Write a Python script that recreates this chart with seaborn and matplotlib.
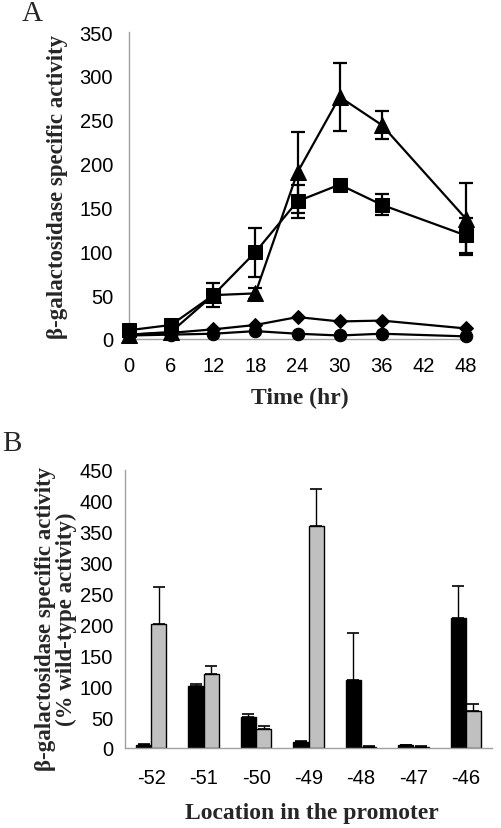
import matplotlib
matplotlib.use("Agg")
import matplotlib.pyplot as plt
import seaborn as sns
import numpy as np
import pandas as pd

# ── Panel A data ────────────────────────────────────────────────────────────
time_hr = [0, 6, 12, 18, 24, 30, 36, 48]
tri_vals = [5, 8, 50, 52, 190, 276, 244, 137]
tri_err = [2, 3, 4, 6, 46, 39, 16, 41]
sq_vals = [10, 16, 50, 99, 157, 176, 153, 118]
sq_err = [2, 3, 14, 28, 19, 3, 12, 20]
dia_vals = [5, 7, 11, 16, 25, 20, 21, 12]
cir_vals = [4, 5, 6, 9, 6, 4, 6, 3]

# ── Panel B data ────────────────────────────────────────────────────────────
locations = ["-52", "-51", "-50", "-49", "-48", "-47", "-46"]
black_vals = [5, 100, 50, 10, 110, 5, 210]
black_err = [1, 3, 5, 2, 76, 0, 53]
gray_vals = [200, 120, 30, 360, 1, 1, 60]
gray_err = [61, 13, 6, 60, 3, 3, 12]

sns.set_theme(style="white")
plt.rcParams["font.family"] = ["Liberation Sans", "DejaVu Sans"]

SERIF = ["Liberation Serif", "DejaVu Serif"]
AXIS_GRAY = "#a0a0a0"
TICK_FS = 14.5

fig = plt.figure(figsize=(5.01, 8.29), dpi=100)
axA = fig.add_axes([129 / 501, 489 / 829, 337 / 501, 307 / 829])
axB = fig.add_axes([125 / 501, 80 / 829, 367 / 501, 278 / 829])


def style_axes(ax):
    for s in ["top", "right"]:
        ax.spines[s].set_visible(False)
    for s in ["left", "bottom"]:
        ax.spines[s].set_color(AXIS_GRAY)
        ax.spines[s].set_linewidth(1.0)
    ax.tick_params(axis="both", colors=AXIS_GRAY, labelcolor="black",
                   labelsize=TICK_FS, length=5, width=1, direction="out")


# ── A: time course ─────────────────────────────────────────────────────────
series = [
    (tri_vals, tri_err, "^"),
    (sq_vals, sq_err, "s"),
    (dia_vals, None, "D"),
    (cir_vals, None, "o"),
]
msize = {"^": 12, "s": 10.5, "D": 7, "o": 9}
for vals, err, mk in series:
    sns.lineplot(x=time_hr, y=vals, ax=axA, color="black", linewidth=1.6,
                 marker=mk, markersize=msize[mk], markeredgecolor="black",
                 markerfacecolor="black", clip_on=False, zorder=3)
    if err is not None:
        axA.errorbar(time_hr, vals, yerr=err, fmt="none", ecolor="black",
                     elinewidth=1.6, capsize=5, capthick=1.6, clip_on=False,
                     zorder=2)

axA.set_xlim(0, 48)
axA.set_ylim(0, 350)
axA.set_xticks(range(0, 49, 6))
axA.set_yticks(range(0, 351, 50))
style_axes(axA)
axA.tick_params(axis="x", pad=7)
axA.tick_params(axis="y", pad=6.5)
axA.set_xlabel("Time (hr)", family=SERIF, fontweight="bold", fontsize=17)
axA.set_ylabel("β-galactosidase specific activity", family=SERIF,
               fontweight="bold", fontsize=16.5)
axA.xaxis.set_label_coords(0.507, -0.156)
axA.yaxis.set_label_coords(-0.181, 0.5)

# ── B: promoter location bars ─────────────────────────────────────────────
dfB = pd.DataFrame({
    "location": locations * 2,
    "activity": black_vals + gray_vals,
    "strain": ["black"] * len(locations) + ["gray"] * len(locations),
})
sns.barplot(data=dfB, x="location", y="activity", hue="strain",
            order=locations, hue_order=["black", "gray"],
            palette={"black": "black", "gray": "#c0c0c0"},
            width=0.58, gap=0, errorbar=None, edgecolor="black",
            linewidth=1.0, legend=False, ax=axB)

for cont, err in zip(axB.containers, [black_err, gray_err]):
    xs = [p.get_x() + p.get_width() / 2 for p in cont.patches]
    hs = [p.get_height() for p in cont.patches]
    axB.errorbar(xs, hs, yerr=[np.zeros(len(err)), err], fmt="none",
                 ecolor="black", elinewidth=1.0, capsize=4, capthick=1.2,
                 zorder=3)

axB.set_xlim(-0.5, 6.5)
axB.set_ylim(0, 450)
axB.set_yticks(range(0, 451, 50))
axB.set_xticks(np.arange(-0.5, 6.6, 1.0), minor=True)
style_axes(axB)
axB.tick_params(axis="x", which="major", length=0)
axB.tick_params(axis="x", which="minor", length=6, width=1, colors=AXIS_GRAY)
axB.tick_params(axis="y", pad=3.5)
for t in axB.xaxis.get_major_ticks():
    t.set_pad(14.5)
axB.set_xlabel("Location in the promoter", family=SERIF, fontweight="bold",
               fontsize=17)
axB.set_ylabel("β-galactosidase specific activity\n(% wild-type activity)",
               family=SERIF, fontweight="bold", fontsize=16.5, linespacing=1.0)
axB.xaxis.set_label_coords(0.51, -0.194)
axB.yaxis.set_label_coords(-0.131, 0.468)

fig.text(22 / 501, 1 - 14 / 829, "A", family=SERIF, fontsize=21,
         va="center", ha="left")
fig.text(2 / 501, 1 - 444 / 829, "B", family=SERIF, fontsize=21,
         va="center", ha="left")

fig.savefig("out.png", dpi=100)
